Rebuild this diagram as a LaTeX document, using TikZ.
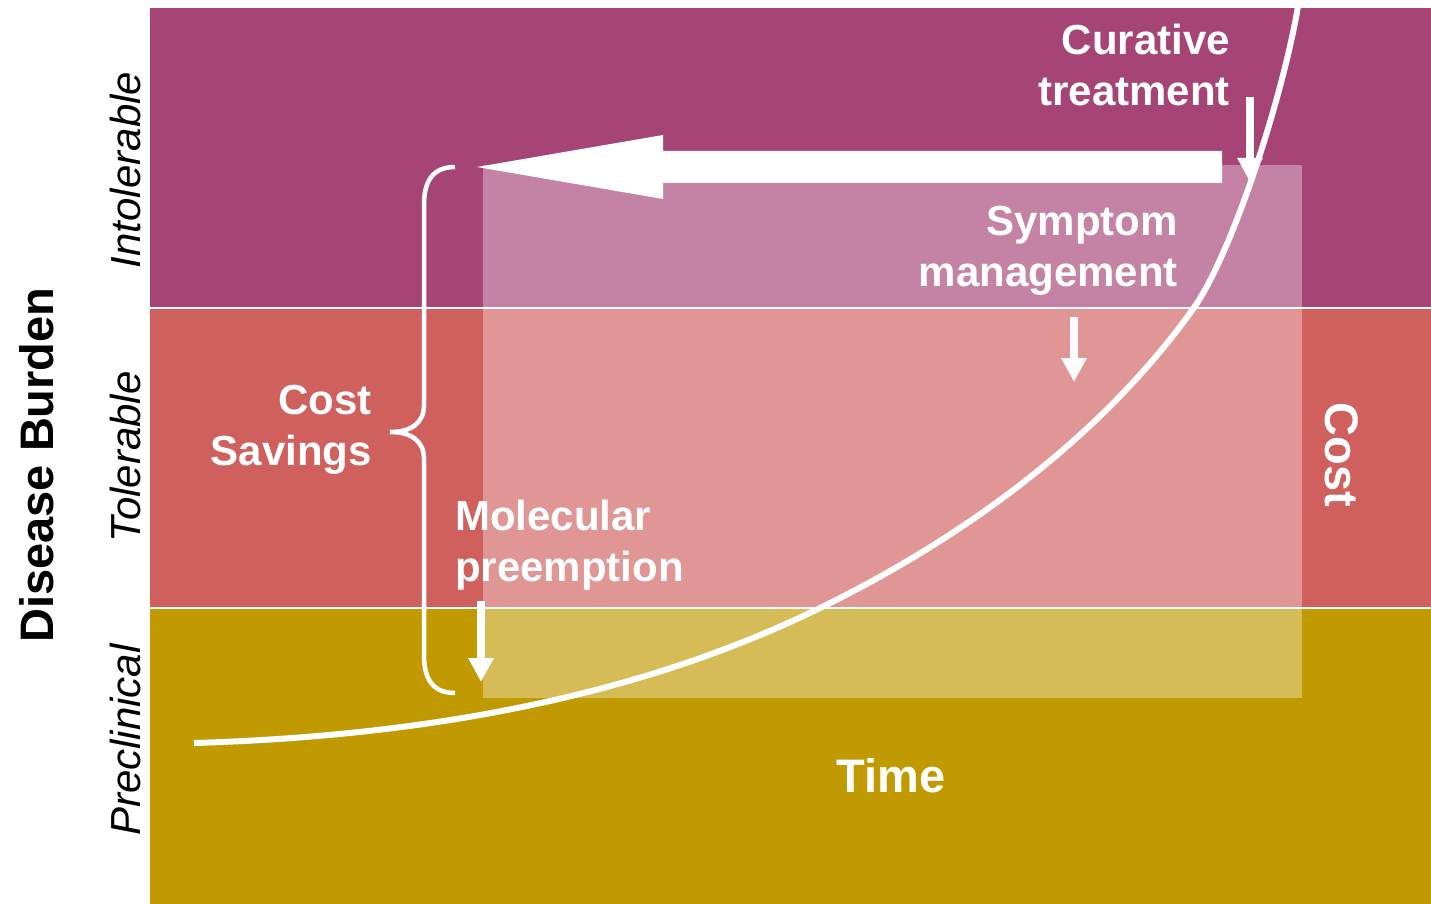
\documentclass[tikz,border=0pt]{standalone}
\usepackage{fontspec}
\setmainfont{Liberation Sans}
\usetikzlibrary{arrows.meta}
\definecolor{bandtop}{RGB}{166,68,117}
\definecolor{bandmid}{RGB}{207,96,94}
\definecolor{bandlow}{RGB}{192,154,0}
\tikzset{
  lbl/.style={text=white, font=\bfseries\fontsize{42}{51}\selectfont, inner sep=0pt},
  axislbl/.style={font=\itshape\fontsize{42}{50}\selectfont, inner sep=0pt, rotate=90},
  downarrow/.style={draw=white, line width=8pt, -{Triangle[length=24pt,width=24pt]}},
}
\begin{document}
\begin{tikzpicture}[x=1pt,y=-1pt]
\useasboundingbox (0,0) rectangle (1431,904);
% burden bands
\fill[bandtop] (150,8) rectangle (1431,308);
\fill[bandmid] (150,308) rectangle (1431,608);
\fill[bandlow] (150,608) rectangle (1431,904);
% cost region
\fill[white, opacity=0.34] (483,165) rectangle (1302,698);
% band separators
\draw[white, line width=2pt] (150,308) -- (1431,308);
\draw[white, line width=2pt] (150,608) -- (1431,608);
% disease progression curve
\coordinate (c0) at (194,743);
\coordinate (c1) at (820,608);
\coordinate (c2) at (1193,309);
\coordinate (c3) at (1299,0);
\draw[white, line width=6pt]
  (c0) .. controls (394,737) and (620,706) .. (c1)
       .. controls (945,547) and (1093,449) .. (c2)
       .. controls (1233,253) and (1285,90) .. (c3);
% shift of intervention towards earlier stages
\fill[white] (477,167) -- (663,135) -- (663,151) -- (1222,151) -- (1222,183)
  -- (663,183) -- (663,199) -- cycle;
% brace
\draw[white, line width=4.5pt]
  (455,167) .. controls (432,167) and (424,182) .. (424,205) -- (424,405)
  .. controls (424,424) and (410,432) .. (390,432)
  .. controls (410,432) and (424,440) .. (424,459) -- (424,655)
  .. controls (424,678) and (432,693) .. (455,693);
% labels
\node[lbl, align=right, anchor=east] (curative) at (1230,65) {Curative\\treatment};
\node[lbl, align=right, anchor=east] (symptom) at (1178,251) {Symptom\\management};
\node[lbl, align=right, anchor=east] (savings) at (372,430) {Cost\\Savings};
\node[lbl, align=left, anchor=west] (molecular) at (455,545) {Molecular\\preemption};
\node[lbl, font=\bfseries\fontsize{47}{50}\selectfont] (time) at (891,776) {Time};
\node[lbl, font=\bfseries\fontsize{47}{50}\selectfont, rotate=-90] (cost) at (1342,455) {Cost};
\node[font=\bfseries\fontsize{47}{50}\selectfont, inner sep=0pt, rotate=90] (burden) at (37,465) {Disease Burden};
\node[axislbl] (intol) at (125,170) {Intolerable};
\node[axislbl] (tol) at (125,457) {Tolerable};
\node[axislbl] (precl) at (125,740) {Preclinical};
% intervention arrows
\coordinate (curtop) at (1250,97);
\coordinate (curtip) at (1250,182);
\coordinate (symtop) at (1074,317);
\coordinate (symtip) at (1074,382);
\coordinate (moltop) at (481,601);
\coordinate (moltip) at (481,682);
\draw[downarrow] (curtop) -- (curtip);
\draw[downarrow] (symtop) -- (symtip);
\draw[downarrow] (moltop) -- (moltip);
\end{tikzpicture}
\end{document}
